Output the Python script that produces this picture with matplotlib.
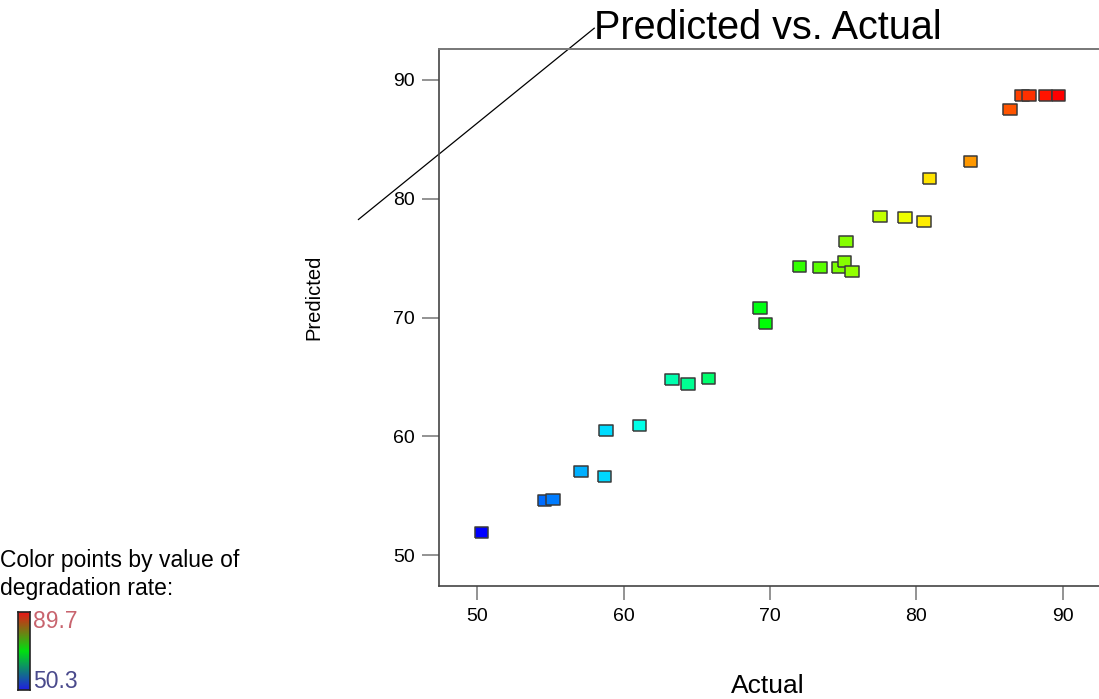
import numpy as np
import matplotlib
matplotlib.use("Agg")
import matplotlib.pyplot as plt
from matplotlib.colors import LinearSegmentedColormap

plt.rcParams['font.family'] = ['Liberation Sans', 'DejaVu Sans']

# actual vs predicted degradation rate
actual = [50.3, 54.6, 55.2, 57.1, 58.7, 58.8, 61.1, 63.3, 64.4, 65.8,
          69.3, 69.7, 72.0, 73.4, 74.7, 75.1, 75.6, 75.2, 77.5, 79.2,
          80.5, 80.9, 83.7, 86.4, 87.2, 87.7, 88.8, 89.7]
predicted = [51.9, 54.6, 54.7, 57.0, 56.6, 60.5, 60.9, 64.8, 64.4, 64.9,
             70.8, 69.5, 74.3, 74.2, 74.2, 74.7, 73.9, 76.4, 78.5, 78.4,
             78.1, 81.7, 83.1, 87.5, 88.7, 88.7, 88.7, 88.7]
x_ticks = [50, 60, 70, 80, 90]
y_ticks = [50, 60, 70, 80, 90]
color_min, color_max = 50.3, 89.7

# the stray y = x reference line, drawn shifted up-left of the frame
diag_x = [41.9, 58.0]
diag_shift = 36.35

cmap = LinearSegmentedColormap.from_list(
    "de", ["#0000ff", "#00ffff", "#00ff00", "#ffff00", "#ff0000"])
# the key bar is a plain blue-green-red ramp
key_cmap = LinearSegmentedColormap.from_list(
    "key", ["#2020e0", "#00e010", "#e81818"])

fig = plt.figure(figsize=(10.99, 6.99), dpi=100)
ax = fig.add_axes([439/1099, 1 - 586/699, 662/1099, 537/699])

sq = [(-1, -0.82), (1, -0.82), (1, 0.82), (-1, 0.82), (-1, -0.82)]
ax.scatter(actual, predicted, c=actual, cmap=cmap, vmin=color_min, vmax=color_max,
           marker=sq, s=95, edgecolors='#3a3a3a', linewidths=1.1, zorder=3)

ax.plot(diag_x, [v + diag_shift for v in diag_x], color='black', lw=0.9,
        clip_on=False)

ax.set_xlim(47.4, 92.6)
ax.set_ylim(47.4, 92.6)
ax.set_xticks(x_ticks)
ax.set_yticks(y_ticks)
ax.tick_params(axis='y', length=12.5, width=1.3, color='#8a8a8a', pad=5,
               labelsize=14)
ax.tick_params(axis='x', length=10, width=1.3, color='#8a8a8a', pad=6,
               labelsize=14)
for side in ['left', 'bottom']:
    ax.spines[side].set_color('#444444')
    ax.spines[side].set_linewidth(1.2)
for side in ['top', 'right']:
    ax.spines[side].set_color('#777777')
    ax.spines[side].set_linewidth(1.4)

fig.text(768/1099, 1 - 28/699, "Predicted vs. Actual", fontsize=28.5,
         ha='center', va='center')
fig.text(768/1099, 1 - 686/699, "Actual", fontsize=19, ha='center', va='center')
fig.text(314/1099, 1 - 297/699, "Predicted", fontsize=14.5, rotation=90,
         ha='center', va='center')

# colour key at the lower left
fig.text(0, 1 - 561/699, "Color points by value of", fontsize=16.5,
         ha='left', va='center')
fig.text(0, 1 - 589/699, "degradation rate:", fontsize=16.5,
         ha='left', va='center')
cax = fig.add_axes([18/1099, 1 - 690/699, 12/1099, 78/699])
grad = np.linspace(color_max, color_min, 100).reshape(-1, 1)
cax.imshow(grad, cmap=key_cmap, vmin=color_min, vmax=color_max, aspect='auto')
cax.set_xticks([])
cax.set_yticks([])
for s in cax.spines.values():
    s.set_color('#222222')
    s.set_linewidth(1.2)
fig.text(33/1099, 1 - 622/699, f"{color_max}", fontsize=16.5, color='#c8646e',
         ha='left', va='center')
fig.text(33/1099, 1 - 682/699, f"{color_min}", fontsize=16.5, color='#4a4a8c',
         ha='left', va='center')

fig.savefig("out.png", dpi=100)
